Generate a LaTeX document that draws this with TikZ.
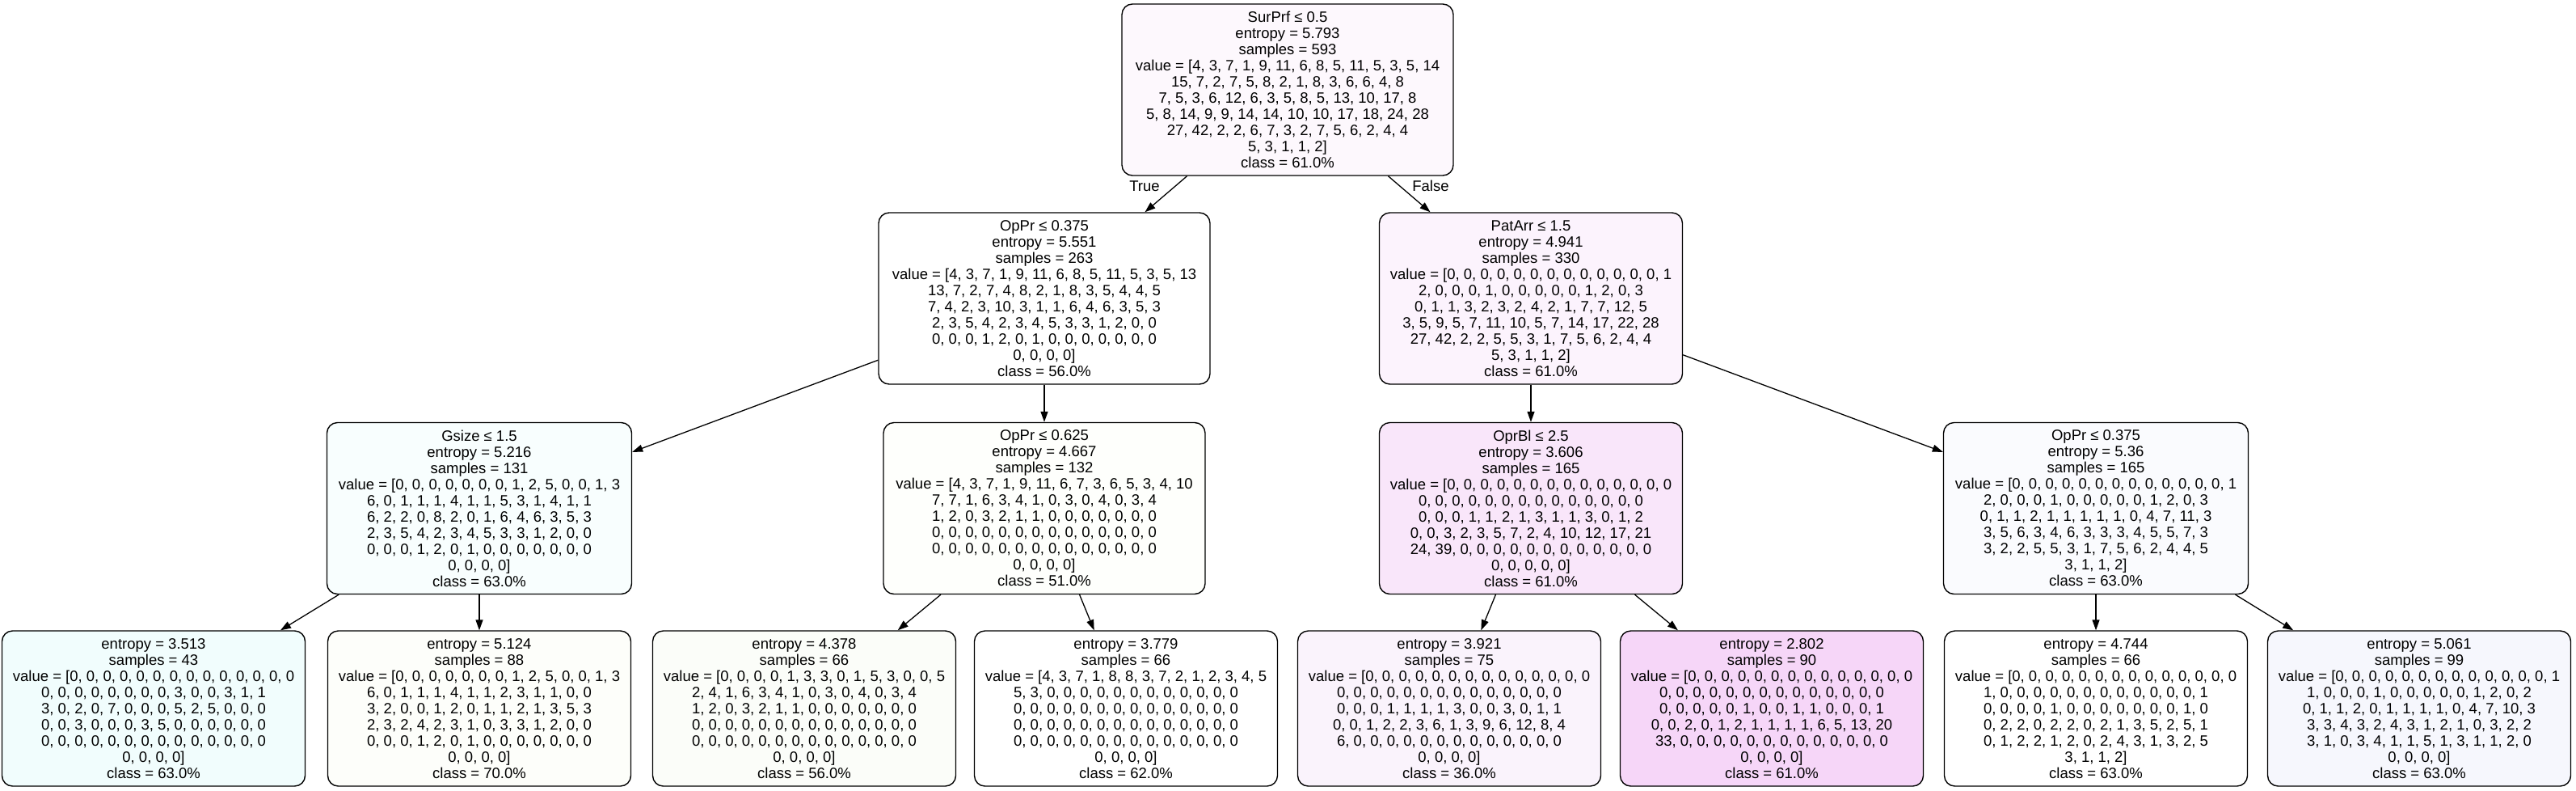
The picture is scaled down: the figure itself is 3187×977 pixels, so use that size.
\documentclass[tikz,border=0pt]{standalone}
\usepackage{fontspec}
\setmainfont{Liberation Sans}
\usetikzlibrary{arrows.meta}

\definecolor{rootfill}{HTML}{FDF8FD}
\definecolor{oppraf}{HTML}{FFFFFF}
\definecolor{patarrf}{HTML}{FCF3FD}
\definecolor{gsizef}{HTML}{F8FEFE}
\definecolor{opprbf}{HTML}{FEFFFC}
\definecolor{oprblf}{HTML}{F9E6FA}
\definecolor{opprcf}{HTML}{FAFBFE}
\definecolor{leafaf}{HTML}{F1FDFD}
\definecolor{leafbf}{HTML}{FDFEFA}
\definecolor{leafcf}{HTML}{FBFDF9}
\definecolor{leafdf}{HTML}{FFFFFF}
\definecolor{leafef}{HTML}{FAF3FC}
\definecolor{leafff}{HTML}{F6D6F8}
\definecolor{leafgf}{HTML}{FFFFFF}
\definecolor{leafhf}{HTML}{F6F7FD}

\tikzset{
  tree node/.style={draw, line width=1.4pt, rounded corners=13pt, align=center,
    font=\fontsize{18.5}{20}\selectfont, inner sep=0pt, minimum height=212pt},
  leaf node/.style={tree node, minimum height=192pt, minimum width=375pt},
  edge label/.style={font=\fontsize{18.5}{20}\selectfont, inner sep=0pt},
}

\begin{document}
\begin{tikzpicture}[x=1pt, y=-1pt, >={Triangle[length=13pt, width=9pt]}]

    \useasboundingbox[fill=white] (0,0) rectangle (3187,977);

    % Split nodes
    \node (root) at (1593,111) [tree node, fill=rootfill, minimum width=410pt] {SurPrf ≤ 0.5\\entropy = 5.793\\samples = 593\\value = [4, 3, 7, 1, 9, 11, 6, 8, 5, 11, 5, 3, 5, 14\\15, 7, 2, 7, 5, 8, 2, 1, 8, 3, 6, 6, 4, 8\\7, 5, 3, 6, 12, 6, 3, 5, 8, 5, 13, 10, 17, 8\\5, 8, 14, 9, 9, 14, 14, 10, 10, 17, 18, 24, 28\\27, 42, 2, 2, 6, 7, 3, 2, 7, 5, 6, 2, 4, 4\\5, 3, 1, 1, 2]\\class = 61.0\%};

    \node (oppra) at (1292,369) [tree node, fill=oppraf, minimum width=410pt] {OpPr ≤ 0.375\\entropy = 5.551\\samples = 263\\value = [4, 3, 7, 1, 9, 11, 6, 8, 5, 11, 5, 3, 5, 13\\13, 7, 2, 7, 4, 8, 2, 1, 8, 3, 5, 4, 4, 5\\7, 4, 2, 3, 10, 3, 1, 1, 6, 4, 6, 3, 5, 3\\2, 3, 5, 4, 2, 3, 4, 5, 3, 3, 1, 2, 0, 0\\0, 0, 0, 1, 2, 0, 1, 0, 0, 0, 0, 0, 0, 0\\0, 0, 0, 0]\\class = 56.0\%};
    \node (patarr) at (1894,369) [tree node, fill=patarrf, minimum width=375pt] {PatArr ≤ 1.5\\entropy = 4.941\\samples = 330\\value = [0, 0, 0, 0, 0, 0, 0, 0, 0, 0, 0, 0, 0, 1\\2, 0, 0, 0, 1, 0, 0, 0, 0, 0, 1, 2, 0, 3\\0, 1, 1, 3, 2, 3, 2, 4, 2, 1, 7, 7, 12, 5\\3, 5, 9, 5, 7, 11, 10, 5, 7, 14, 17, 22, 28\\27, 42, 2, 2, 5, 5, 3, 1, 7, 5, 6, 2, 4, 4\\5, 3, 1, 1, 2]\\class = 61.0\%};

    \node (gsize) at (593,628.5) [tree node, fill=gsizef, minimum width=377pt] {Gsize ≤ 1.5\\entropy = 5.216\\samples = 131\\value = [0, 0, 0, 0, 0, 0, 0, 1, 2, 5, 0, 0, 1, 3\\6, 0, 1, 1, 1, 4, 1, 1, 5, 3, 1, 4, 1, 1\\6, 2, 2, 0, 8, 2, 0, 1, 6, 4, 6, 3, 5, 3\\2, 3, 5, 4, 2, 3, 4, 5, 3, 3, 1, 2, 0, 0\\0, 0, 0, 1, 2, 0, 1, 0, 0, 0, 0, 0, 0, 0\\0, 0, 0, 0]\\class = 63.0\%};
    \node (opprb) at (1292,628.5) [tree node, fill=opprbf, minimum width=398pt] {OpPr ≤ 0.625\\entropy = 4.667\\samples = 132\\value = [4, 3, 7, 1, 9, 11, 6, 7, 3, 6, 5, 3, 4, 10\\7, 7, 1, 6, 3, 4, 1, 0, 3, 0, 4, 0, 3, 4\\1, 2, 0, 3, 2, 1, 1, 0, 0, 0, 0, 0, 0, 0\\0, 0, 0, 0, 0, 0, 0, 0, 0, 0, 0, 0, 0, 0\\0, 0, 0, 0, 0, 0, 0, 0, 0, 0, 0, 0, 0, 0\\0, 0, 0, 0]\\class = 51.0\%};
    \node (oprbl) at (1894,628.5) [tree node, fill=oprblf, minimum width=375pt] {OprBl ≤ 2.5\\entropy = 3.606\\samples = 165\\value = [0, 0, 0, 0, 0, 0, 0, 0, 0, 0, 0, 0, 0, 0\\0, 0, 0, 0, 0, 0, 0, 0, 0, 0, 0, 0, 0, 0\\0, 0, 0, 1, 1, 2, 1, 3, 1, 1, 3, 0, 1, 2\\0, 0, 3, 2, 3, 5, 7, 2, 4, 10, 12, 17, 21\\24, 39, 0, 0, 0, 0, 0, 0, 0, 0, 0, 0, 0, 0\\0, 0, 0, 0, 0]\\class = 61.0\%};
    \node (opprc) at (2593,628.5) [tree node, fill=opprcf, minimum width=377pt] {OpPr ≤ 0.375\\entropy = 5.36\\samples = 165\\value = [0, 0, 0, 0, 0, 0, 0, 0, 0, 0, 0, 0, 0, 1\\2, 0, 0, 0, 1, 0, 0, 0, 0, 0, 1, 2, 0, 3\\0, 1, 1, 2, 1, 1, 1, 1, 1, 0, 4, 7, 11, 3\\3, 5, 6, 3, 4, 6, 3, 3, 3, 4, 5, 5, 7, 3\\3, 2, 2, 5, 5, 3, 1, 7, 5, 6, 2, 4, 4, 5\\3, 1, 1, 2]\\class = 63.0\%};

    % Leaves
    \node (leafa) at (190,876) [leaf node, fill=leafaf] {entropy = 3.513\\samples = 43\\value = [0, 0, 0, 0, 0, 0, 0, 0, 0, 0, 0, 0, 0, 0\\0, 0, 0, 0, 0, 0, 0, 0, 3, 0, 0, 3, 1, 1\\3, 0, 2, 0, 7, 0, 0, 0, 5, 2, 5, 0, 0, 0\\0, 0, 3, 0, 0, 0, 3, 5, 0, 0, 0, 0, 0, 0\\0, 0, 0, 0, 0, 0, 0, 0, 0, 0, 0, 0, 0, 0\\0, 0, 0, 0]\\class = 63.0\%};
    \node (leafb) at (593,876) [leaf node, fill=leafbf] {entropy = 5.124\\samples = 88\\value = [0, 0, 0, 0, 0, 0, 0, 1, 2, 5, 0, 0, 1, 3\\6, 0, 1, 1, 1, 4, 1, 1, 2, 3, 1, 1, 0, 0\\3, 2, 0, 0, 1, 2, 0, 1, 1, 2, 1, 3, 5, 3\\2, 3, 2, 4, 2, 3, 1, 0, 3, 3, 1, 2, 0, 0\\0, 0, 0, 1, 2, 0, 1, 0, 0, 0, 0, 0, 0, 0\\0, 0, 0, 0]\\class = 70.0\%};
    \node (leafc) at (995,876) [leaf node, fill=leafcf] {entropy = 4.378\\samples = 66\\value = [0, 0, 0, 0, 1, 3, 3, 0, 1, 5, 3, 0, 0, 5\\2, 4, 1, 6, 3, 4, 1, 0, 3, 0, 4, 0, 3, 4\\1, 2, 0, 3, 2, 1, 1, 0, 0, 0, 0, 0, 0, 0\\0, 0, 0, 0, 0, 0, 0, 0, 0, 0, 0, 0, 0, 0\\0, 0, 0, 0, 0, 0, 0, 0, 0, 0, 0, 0, 0, 0\\0, 0, 0, 0]\\class = 56.0\%};
    \node (leafd) at (1393,876) [leaf node, fill=leafdf] {entropy = 3.779\\samples = 66\\value = [4, 3, 7, 1, 8, 8, 3, 7, 2, 1, 2, 3, 4, 5\\5, 3, 0, 0, 0, 0, 0, 0, 0, 0, 0, 0, 0, 0\\0, 0, 0, 0, 0, 0, 0, 0, 0, 0, 0, 0, 0, 0\\0, 0, 0, 0, 0, 0, 0, 0, 0, 0, 0, 0, 0, 0\\0, 0, 0, 0, 0, 0, 0, 0, 0, 0, 0, 0, 0, 0\\0, 0, 0, 0]\\class = 62.0\%};
    \node (leafe) at (1793,876) [leaf node, fill=leafef] {entropy = 3.921\\samples = 75\\value = [0, 0, 0, 0, 0, 0, 0, 0, 0, 0, 0, 0, 0, 0\\0, 0, 0, 0, 0, 0, 0, 0, 0, 0, 0, 0, 0, 0\\0, 0, 0, 1, 1, 1, 1, 3, 0, 0, 3, 0, 1, 1\\0, 0, 1, 2, 2, 3, 6, 1, 3, 9, 6, 12, 8, 4\\6, 0, 0, 0, 0, 0, 0, 0, 0, 0, 0, 0, 0, 0\\0, 0, 0, 0]\\class = 36.0\%};
    \node (leaff) at (2192,876) [leaf node, fill=leafff] {entropy = 2.802\\samples = 90\\value = [0, 0, 0, 0, 0, 0, 0, 0, 0, 0, 0, 0, 0, 0\\0, 0, 0, 0, 0, 0, 0, 0, 0, 0, 0, 0, 0, 0\\0, 0, 0, 0, 0, 1, 0, 0, 1, 1, 0, 0, 0, 1\\0, 0, 2, 0, 1, 2, 1, 1, 1, 1, 6, 5, 13, 20\\33, 0, 0, 0, 0, 0, 0, 0, 0, 0, 0, 0, 0, 0\\0, 0, 0, 0]\\class = 61.0\%};
    \node (leafg) at (2593,876) [leaf node, fill=leafgf] {entropy = 4.744\\samples = 66\\value = [0, 0, 0, 0, 0, 0, 0, 0, 0, 0, 0, 0, 0, 0\\1, 0, 0, 0, 0, 0, 0, 0, 0, 0, 0, 0, 0, 1\\0, 0, 0, 0, 1, 0, 0, 0, 0, 0, 0, 0, 1, 0\\0, 2, 2, 0, 2, 2, 0, 2, 1, 3, 5, 2, 5, 1\\0, 1, 2, 2, 1, 2, 0, 2, 4, 3, 1, 3, 2, 5\\3, 1, 1, 2]\\class = 63.0\%};
    \node (leafh) at (2993,876) [leaf node, fill=leafhf] {entropy = 5.061\\samples = 99\\value = [0, 0, 0, 0, 0, 0, 0, 0, 0, 0, 0, 0, 0, 1\\1, 0, 0, 0, 1, 0, 0, 0, 0, 0, 1, 2, 0, 2\\0, 1, 1, 2, 0, 1, 1, 1, 1, 0, 4, 7, 10, 3\\3, 3, 4, 3, 2, 4, 3, 1, 2, 1, 0, 3, 2, 2\\3, 1, 0, 3, 4, 1, 1, 5, 1, 3, 1, 1, 2, 0\\0, 0, 0, 0]\\class = 63.0\%};

    % Edge labels
    \node (lbltrue) at (1416,230) [edge label] {True};
    \node (lblfalse) at (1770,230) [edge label] {False};

    % Arrows
    \draw[->, line width=1.3pt] (root) -- (oppra);
    \draw[->, line width=1.3pt] (root) -- (patarr);
    \draw[->, line width=1.3pt] (oppra) -- (gsize);
    \draw[->, line width=1.3pt] (oppra) -- (opprb);
    \draw[->, line width=1.3pt] (patarr) -- (oprbl);
    \draw[->, line width=1.3pt] (patarr) -- (opprc);
    \draw[->, line width=1.3pt] (gsize) -- (leafa);
    \draw[->, line width=1.3pt] (gsize) -- (leafb);
    \draw[->, line width=1.3pt] (opprb) -- (leafc);
    \draw[->, line width=1.3pt] (opprb) -- (leafd);
    \draw[->, line width=1.3pt] (oprbl) -- (leafe);
    \draw[->, line width=1.3pt] (oprbl) -- (leaff);
    \draw[->, line width=1.3pt] (opprc) -- (leafg);
    \draw[->, line width=1.3pt] (opprc) -- (leafh);

\end{tikzpicture}
\end{document}
